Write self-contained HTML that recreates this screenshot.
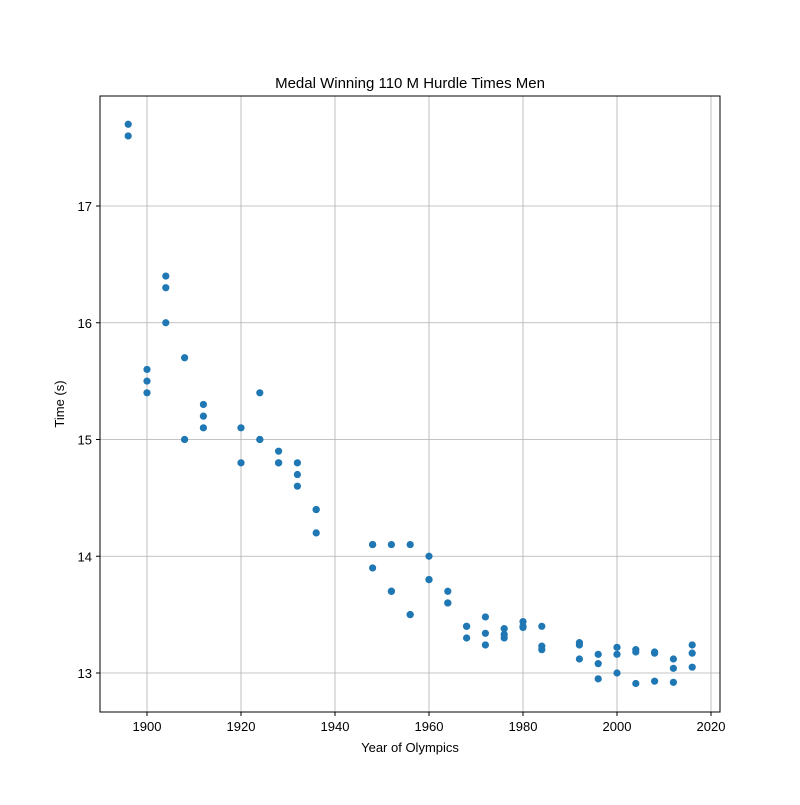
<!DOCTYPE html>
<html><head><meta charset="utf-8"><style>
body{margin:0;background:#fff;}
svg text{font-family:"Liberation Sans","DejaVu Sans",sans-serif;fill:#000;}
</style></head><body>
<svg id="chart" width="800" height="800" xmlns="http://www.w3.org/2000/svg">
<rect width="800" height="800" fill="#fff"/>
<text x="410" y="88" font-size="15" text-anchor="middle">Medal Winning 110 M Hurdle Times Men</text>
<g id="grid"></g>
<g id="points"></g>
<rect x="100" y="96" width="620" height="616" fill="none" stroke="#000" stroke-width="1"/>
<g id="ticks"></g>
<text x="410" y="752" font-size="13" text-anchor="middle">Year of Olympics</text>
<text x="64" y="404" font-size="13" text-anchor="middle" transform="rotate(-90 64 404)">Time (s)</text>
</svg>
<script>
const years = [1896,1896,1900,1900,1900,1904,1904,1904,1908,1908,1908,1912,1912,1912,1920,1920,1924,1924,1924,1928,1928,1928,1932,1932,1932,1936,1936,1936,1948,1948,1948,1952,1952,1952,1956,1956,1956,1960,1960,1960,1964,1964,1964,1968,1968,1968,1972,1972,1972,1976,1976,1976,1980,1980,1980,1984,1984,1984,1992,1992,1992,1996,1996,1996,2000,2000,2000,2004,2004,2004,2008,2008,2008,2012,2012,2012,2016,2016,2016];
const times = [17.7,17.6,15.6,15.5,15.4,16.4,16.3,16.0,15.7,15.0,15.0,15.3,15.2,15.1,15.1,14.8,15.4,15.0,15.0,14.9,14.8,14.8,14.8,14.7,14.6,14.4,14.4,14.2,14.1,14.1,13.9,14.1,13.7,13.7,14.1,13.5,13.5,14.0,13.8,13.8,13.7,13.6,13.6,13.4,13.4,13.3,13.48,13.34,13.24,13.38,13.33,13.30,13.44,13.39,13.40,13.40,13.23,13.20,13.26,13.24,13.12,13.16,13.08,12.95,13.22,13.16,13.00,13.20,13.18,12.91,13.18,13.17,12.93,13.12,13.04,12.92,13.24,13.17,13.05];
const xTicks = [1900,1920,1940,1960,1980,2000,2020];
const yTicks = [13,14,15,16,17];
const X0=100,X1=720,Y0=96,Y1=712;
const xMin=1890,xMax=1890+620/4.7;
const yMin=13-39/116.75,yMax=17+110/116.75;
const sx=v=>X0+(v-xMin)/(xMax-xMin)*(X1-X0);
const sy=v=>Y1-(v-yMin)/(yMax-yMin)*(Y1-Y0);
const NS="http://www.w3.org/2000/svg";
const grid=document.getElementById('grid'),ticks=document.getElementById('ticks'),pts=document.getElementById('points');
function mk(tag,attrs,parent){const e=document.createElementNS(NS,tag);for(const k in attrs)e.setAttribute(k,attrs[k]);parent.appendChild(e);return e;}
xTicks.forEach(t=>{const x=sx(t);
const g=mk('line',{x1:x,x2:x,y1:Y0,y2:Y1,stroke:'#b0b0b0','stroke-width':0.8},grid);


mk('line',{x1:x,x2:x,y1:Y1,y2:Y1+4,stroke:'#000'},ticks);
const l=mk('text',{x:x,y:Y1+19,'font-size':13,'text-anchor':'middle'},ticks);l.textContent=t;

});
yTicks.forEach(t=>{const y=sy(t);
const g=mk('line',{x1:X0,x2:X1,y1:y,y2:y,stroke:'#b0b0b0','stroke-width':0.8},grid);


mk('line',{x1:X0-4,x2:X0,y1:y,y2:y,stroke:'#000'},ticks);
const l=mk('text',{x:X0-8,y:y+5,'font-size':13,'text-anchor':'end'},ticks);l.textContent=t;

});
years.forEach((yr,i)=>{const c=mk('circle',{cx:sx(yr),cy:sy(times[i]),r:3.6,fill:'#1f77b4'},pts);

});
</script>
</body></html>
